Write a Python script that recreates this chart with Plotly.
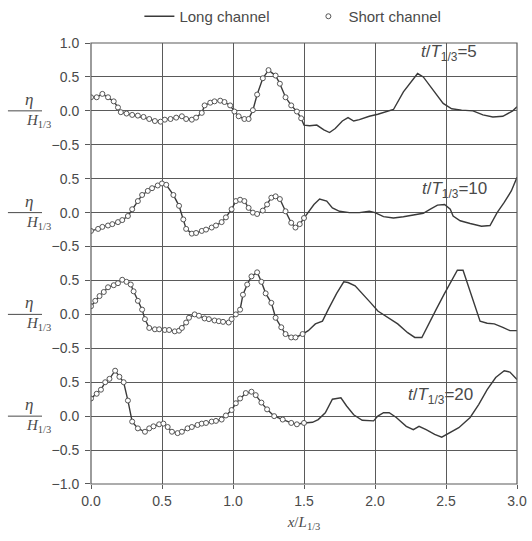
import plotly.graph_objects as go
from plotly.subplots import make_subplots

# ---- data ----
# x/L1/3 positions and eta/H1/3 values, short channel (0 - 1.5)
p1_short_x = [0.00, 0.04, 0.08, 0.12, 0.16, 0.19, 0.21, 0.25, 0.29, 0.33, 0.37, 0.41, 0.45, 0.49,
              0.52, 0.56, 0.60, 0.64, 0.67, 0.71, 0.74, 0.78, 0.80, 0.84, 0.87, 0.91, 0.94, 0.98,
              1.01, 1.04, 1.08, 1.11, 1.14, 1.17, 1.21, 1.25, 1.30, 1.33, 1.37, 1.41, 1.45, 1.48]
p1_short_y = [0.20, 0.20, 0.25, 0.20, 0.14, 0.05, -0.02, -0.04, -0.06, -0.07, -0.09, -0.12, -0.15, -0.16,
              -0.13, -0.12, -0.10, -0.08, -0.12, -0.13, -0.10, -0.03, 0.08, 0.12, 0.14, 0.15, 0.13, 0.08,
              -0.01, -0.08, -0.12, -0.12, 0.01, 0.24, 0.48, 0.60, 0.52, 0.40, 0.20, 0.08, -0.01, -0.11]
p1_tail_x = [1.50, 1.54, 1.59, 1.64, 1.68, 1.72, 1.77, 1.81, 1.85, 1.89, 1.96, 2.02, 2.09, 2.13,
             2.20, 2.26, 2.30, 2.34, 2.41, 2.48, 2.54, 2.61, 2.69, 2.76, 2.83, 2.90, 2.97, 3.00]
p1_tail_y = [-0.21, -0.22, -0.21, -0.28, -0.32, -0.26, -0.15, -0.10, -0.15, -0.13, -0.08, -0.05, -0.01, 0.02,
             0.28, 0.45, 0.55, 0.50, 0.30, 0.11, 0.03, 0.01, 0.00, -0.06, -0.09, -0.08, 0.00, 0.06]

p2_short_x = [0.00, 0.05, 0.08, 0.12, 0.15, 0.19, 0.22, 0.26, 0.29, 0.33, 0.36, 0.40, 0.43, 0.47,
              0.50, 0.53, 0.58, 0.62, 0.65, 0.67, 0.71, 0.74, 0.78, 0.81, 0.85, 0.88, 0.92, 0.95,
              0.99, 1.02, 1.05, 1.08, 1.11, 1.14, 1.17, 1.21, 1.24, 1.27, 1.30, 1.33, 1.37, 1.41,
              1.44, 1.47, 1.50]
p2_short_y = [-0.27, -0.24, -0.21, -0.19, -0.17, -0.14, -0.11, -0.05, 0.05, 0.17, 0.26, 0.32, 0.36, 0.40,
              0.43, 0.41, 0.26, 0.10, -0.10, -0.24, -0.31, -0.30, -0.27, -0.25, -0.22, -0.19, -0.14, -0.07,
              0.05, 0.17, 0.19, 0.17, 0.07, 0.00, -0.02, 0.03, 0.12, 0.22, 0.24, 0.20, 0.02, -0.15,
              -0.22, -0.17, -0.08]
p2_tail_x = [1.53, 1.57, 1.61, 1.66, 1.70, 1.75, 1.82, 1.89, 1.96, 2.00, 2.06, 2.13, 2.20, 2.27,
             2.34, 2.39, 2.44, 2.49, 2.53, 2.55, 2.60, 2.67, 2.75, 2.81, 2.86, 2.91, 2.96, 3.00]
p2_tail_y = [0.00, 0.12, 0.20, 0.17, 0.07, 0.02, 0.00, 0.00, 0.02, 0.00, -0.06, -0.08, -0.06, -0.03,
             -0.01, 0.05, 0.11, 0.12, 0.05, -0.05, -0.12, -0.16, -0.20, -0.19, 0.00, 0.15, 0.32, 0.52]

p3_short_x = [0.00, 0.03, 0.06, 0.09, 0.12, 0.16, 0.19, 0.22, 0.25, 0.28, 0.30, 0.33, 0.36, 0.38,
              0.41, 0.45, 0.48, 0.52, 0.55, 0.59, 0.62, 0.64, 0.67, 0.69, 0.73, 0.76, 0.80, 0.83,
              0.87, 0.90, 0.93, 0.97, 0.99, 1.02, 1.05, 1.07, 1.10, 1.13, 1.17, 1.20, 1.23, 1.27,
              1.30, 1.34, 1.37, 1.41, 1.44, 1.49]
p3_short_y = [0.12, 0.20, 0.27, 0.33, 0.40, 0.43, 0.46, 0.51, 0.48, 0.44, 0.34, 0.20, 0.07, -0.07,
              -0.20, -0.22, -0.22, -0.23, -0.23, -0.25, -0.24, -0.20, -0.12, -0.05, 0.00, -0.02, -0.06, -0.07,
              -0.09, -0.10, -0.11, -0.12, -0.07, 0.00, 0.07, 0.29, 0.44, 0.56, 0.62, 0.48, 0.31, 0.17,
              -0.05, -0.19, -0.29, -0.34, -0.34, -0.29]
p3_tail_x = [1.53, 1.58, 1.63, 1.67, 1.73, 1.78, 1.81, 1.86, 1.92, 1.97, 2.02, 2.09, 2.16, 2.23,
             2.28, 2.33, 2.37, 2.43, 2.49, 2.55, 2.58, 2.62, 2.65, 2.70, 2.74, 2.79, 2.84, 2.90,
             2.95, 3.00]
p3_tail_y = [-0.24, -0.14, -0.10, 0.07, 0.31, 0.48, 0.47, 0.42, 0.29, 0.17, 0.05, -0.05, -0.14, -0.27,
             -0.34, -0.34, -0.17, 0.07, 0.31, 0.53, 0.65, 0.65, 0.46, 0.17, -0.10, -0.13, -0.14, -0.19,
             -0.24, -0.24]

p4_short_x = [0.00, 0.04, 0.07, 0.10, 0.13, 0.17, 0.20, 0.23, 0.26, 0.29, 0.33, 0.38, 0.41, 0.44,
              0.48, 0.51, 0.54, 0.57, 0.61, 0.64, 0.68, 0.71, 0.75, 0.78, 0.81, 0.85, 0.88, 0.92,
              0.95, 0.99, 1.02, 1.05, 1.09, 1.13, 1.16, 1.20, 1.24, 1.29, 1.35, 1.41, 1.45, 1.50]
p4_short_y = [0.26, 0.33, 0.39, 0.50, 0.55, 0.67, 0.58, 0.50, 0.23, -0.08, -0.18, -0.23, -0.18, -0.15,
              -0.12, -0.11, -0.16, -0.23, -0.25, -0.23, -0.18, -0.16, -0.13, -0.11, -0.10, -0.08, -0.07, -0.05,
              0.01, 0.09, 0.19, 0.26, 0.34, 0.36, 0.31, 0.20, 0.10, 0.00, -0.05, -0.10, -0.12, -0.10]
p4_tail_x = [1.56, 1.60, 1.65, 1.70, 1.76, 1.80, 1.85, 1.91, 1.99, 2.02, 2.06, 2.10, 2.15, 2.22,
             2.27, 2.31, 2.36, 2.42, 2.47, 2.52, 2.59, 2.67, 2.73, 2.79, 2.85, 2.91, 2.95, 3.00]
p4_tail_y = [-0.09, -0.05, 0.05, 0.25, 0.27, 0.15, 0.02, -0.06, -0.07, 0.00, 0.05, 0.05, -0.02, -0.15,
             -0.20, -0.15, -0.20, -0.27, -0.31, -0.25, -0.17, -0.02, 0.17, 0.39, 0.57, 0.67, 0.65, 0.54]

panel_labels = ["5", "10", "15", "20"]
label_pos_x = [2.52, 2.56, 2.11, 2.46]
label_pos_y = [0.85, 0.33, 0.82, 0.30]

x_ticks = [0.0, 0.5, 1.0, 1.5, 2.0, 2.5, 3.0]
y_ticks = [[1.0, 0.5, 0.0, -0.5], [0.5, 0.0, -0.5], [0.5, 0.0, -0.5], [0.5, 0.0, -0.5, -1.0]]
y_ranges = [[-0.75, 1.0], [-0.75, 0.75], [-0.75, 0.75], [-1.0, 0.75]]

panels = [
    (p1_short_x, p1_short_y, p1_tail_x, p1_tail_y),
    (p2_short_x, p2_short_y, p2_tail_x, p2_tail_y),
    (p3_short_x, p3_short_y, p3_tail_x, p3_tail_y),
    (p4_short_x, p4_short_y, p4_tail_x, p4_tail_y),
]

INK = "#3a3a3a"
GRID = "#5a5a5a"
TXT = "#4a4a4a"
FONT = "Liberation Sans"

fig = make_subplots(rows=4, cols=1, shared_xaxes=True, vertical_spacing=0,
                    row_heights=[1.75, 1.5, 1.5, 1.75])

for i, (sx, sy, tx, ty) in enumerate(panels):
    r = i + 1
    fig.add_trace(go.Scatter(x=sx + tx, y=sy + ty, mode="lines",
                             line=dict(color=INK, width=1.4),
                             name="Long channel", showlegend=(i == 0)), row=r, col=1)
    fig.add_trace(go.Scatter(x=sx, y=sy, mode="markers",
                             marker=dict(symbol="circle", size=5, color="white",
                                         line=dict(color="#555", width=1)),
                             name="Short channel", showlegend=(i == 0)), row=r, col=1)

for i in range(4):
    r = i + 1
    fig.update_yaxes(range=y_ranges[i], tickvals=y_ticks[i],
                     ticktext=[f"{v:.1f}".replace("-", "\u2212") for v in y_ticks[i]],
                     showgrid=True, gridcolor=GRID, gridwidth=1, zeroline=False,
                     ticks="outside", ticklen=5, tickcolor=GRID, ticklabelstandoff=3,
                     tickfont=dict(family=FONT, size=14, color=TXT),
                     row=r, col=1)
    fig.update_xaxes(range=[0, 3.0], tickvals=x_ticks, showgrid=True, gridcolor=GRID,
                     gridwidth=1, zeroline=False, row=r, col=1)
    yref = "y" if r == 1 else f"y{r}"
    xref = "x" if r == 1 else f"x{r}"
    # panel label
    fig.add_annotation(x=label_pos_x[i], y=label_pos_y[i], xref=xref, yref=yref,
                       text=f"<i>t</i>/<i>T</i><sub>1/3</sub>={panel_labels[i]}",
                       showarrow=False, font=dict(family=FONT, size=17, color=TXT))
    # y label fraction eta / H1/3
    fig.add_annotation(x=-0.16, y=0, xref="paper", yref=yref, yanchor="bottom",
                       text="<i>η</i>", showarrow=False, yshift=0,
                       font=dict(family="Liberation Serif", size=17, color=TXT))
    fig.add_annotation(x=-0.158, y=0, xref="paper", yref=yref, yanchor="top",
                       text="<i>H</i><sub>1/3</sub>", showarrow=False, yshift=1,
                       font=dict(family="Liberation Serif", size=15, color=TXT))
    fig.add_shape(type="line", xref="paper", yref=yref, x0=-0.195, x1=-0.115, y0=0, y1=0,
                  line=dict(color=TXT, width=1))

fig.update_xaxes(showticklabels=True, tickformat=".1f", ticks="outside", ticklen=4,
                 tickcolor=GRID, tickfont=dict(family=FONT, size=14, color=TXT),
                 title=dict(text="<i>x</i>/<i>L</i><sub>1/3</sub>",
                            font=dict(family="Liberation Serif", size=15, color=TXT),
                            standoff=8),
                 row=4, col=1)

# outer frame
fig.add_shape(type="rect", xref="paper", yref="paper", x0=0, x1=1, y0=0, y1=1,
              line=dict(color=GRID, width=1.2))

fig.update_layout(
    width=532, height=541,
    margin=dict(l=91, r=15, t=43, b=57, autoexpand=False),
    paper_bgcolor="white", plot_bgcolor="white",
    legend=dict(orientation="h", xref="container", yref="container",
                x=0.262, y=1.0, xanchor="left", yanchor="top",
                font=dict(family=FONT, size=15, color=TXT), entrywidth=124,
                entrywidthmode="pixels", tracegroupgap=0,
                bgcolor="rgba(0,0,0,0)"),
    showlegend=True,
)

fig.write_html("out.html")
